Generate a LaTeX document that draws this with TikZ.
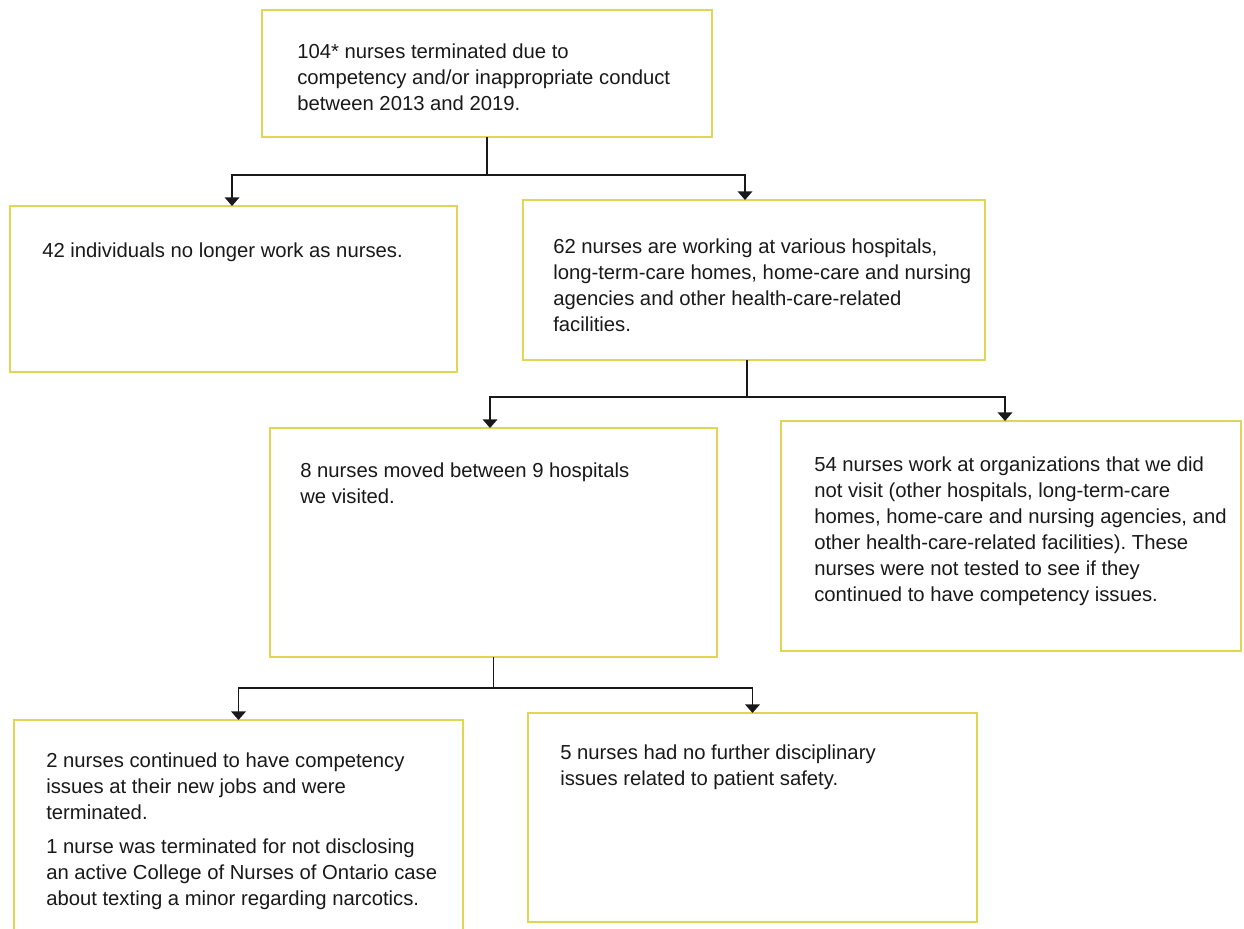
\documentclass[tikz,border=0pt]{standalone}
\usepackage{fontspec}
\setmainfont{Liberation Sans}
\usetikzlibrary{arrows.meta}
\definecolor{boxyellow}{RGB}{224,214,84}
\frenchspacing
\tikzset{
  box/.style={draw=boxyellow, line width=1.3pt, rectangle, inner sep=0pt, outer sep=0pt},
  txt/.style={anchor=north west, inner sep=0pt, align=left, font=\fontsize{15.2}{19.5}\selectfont, text=black!90},
  conn/.style={draw=black!90, line width=1.2pt},
  arr/.style={conn, -{Triangle[width=11pt,length=6.5pt]}}
}
\begin{document}
\begin{tikzpicture}[x=0.75pt, y=-0.75pt]
\useasboundingbox (0,0) rectangle (1244,928);
\fill[white] (0,0) rectangle (1244,928);
% boxes
\node[box, minimum width=450*0.75pt, minimum height=127*0.75pt] (top) at (487,73.5) {};
\node[box, minimum width=447*0.75pt, minimum height=166*0.75pt] (A) at (233.5,289) {};
\node[box, minimum width=462*0.75pt, minimum height=160*0.75pt] (B) at (754,280) {};
\node[box, minimum width=447*0.75pt, minimum height=229*0.75pt] (C) at (493.5,542.5) {};
\node[box, minimum width=460*0.75pt, minimum height=230*0.75pt] (D) at (1011,536) {};
\node[box, minimum width=449*0.75pt, minimum height=220*0.75pt] (E) at (238.5,830) {};
\node[box, minimum width=449*0.75pt, minimum height=209*0.75pt] (F) at (752.5,817.5) {};
% texts
\node[txt] (ttop) at (297,43.5) {104* nurses terminated due to\\competency and/or inappropriate conduct\\between 2013 and 2019.};
\node[txt] (tA) at (42,242.5) {42 individuals no longer work as nurses.};
\node[txt] (tB) at (553,238.5) {62 nurses are working at various hospitals,\\long-term-care homes, home-care and nursing\\agencies and other health-care-related\\facilities.};
\node[txt] (tC) at (300,462.5) {8 nurses moved between 9 hospitals\\we visited.};
\node[txt] (tD) at (814,456.5) {54 nurses work at organizations that we did\\not visit (other hospitals, long-term-care\\homes, home-care and nursing agencies, and\\other health-care-related facilities). These\\nurses were not tested to see if they\\continued to have competency issues.};
\node[txt] (tE1) at (46,752.5) {2 nurses continued to have competency\\issues at their new jobs and were\\terminated.};
\node[txt] (tE2) at (46,838.5) {1 nurse was terminated for not disclosing\\an active College of Nurses of Ontario case\\about texting a minor regarding narcotics.};
\node[txt] (tF) at (560,744.5) {5 nurses had no further disciplinary\\issues related to patient safety.};
% connectors
\coordinate (j1) at (487,175);
\coordinate (j2) at (747,397);
\coordinate (j3) at (493.5,688);
\draw[conn] (top.south) -- (j1);
\draw[arr] (j1) -| ([xshift=-1.1pt]A.north);
\draw[arr] (j1) -| ([xshift=-6.75pt]B.north);
\draw[conn] ([xshift=-5.25pt]B.south) -- (j2);
\draw[arr] (j2) -| ([xshift=-2.6pt]C.north);
\draw[arr] (j2) -| ([xshift=-4.5pt]D.north);
\draw[conn] (C.south) -- (j3);
\draw[arr] (j3) -| (E.north);
\draw[arr] (j3) -| (F.north);
\end{tikzpicture}
\end{document}
